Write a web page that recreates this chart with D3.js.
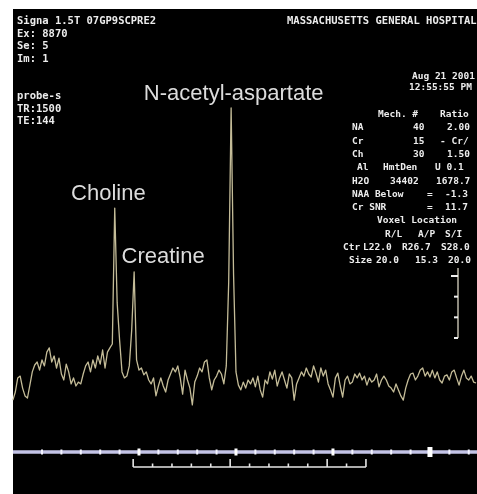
<!DOCTYPE html>
<html>
<head>
<meta charset="utf-8">
<script src="https://cdn.jsdelivr.net/npm/d3@7"></script>
<style>
    html, body { margin: 0; padding: 0; background: #fff; }
    svg { display: block; }
    .mono { font-family: "DejaVu Sans Mono", monospace; font-weight: bold; font-size: 10.5px; fill: #ececec; }
    .small { font-size: 9.5px; }
    .label { font-family: "Liberation Sans", Arial, sans-serif; font-size: 22px; fill: #dcdcdc; }
</style>
</head>
<body>
<svg id="chart"></svg>
<script>
// chemical shift grid of the trace (ppm), one amplitude per step
const ppmStart = 4.30;
const ppmStep = 0.025;

// spectrum amplitude (arbitrary units) left to right
const signal = [
    3.3, 6, 10.7, 11.3, 7.3, 4.7, 4, 8.3, 12.7, 15, 16, 13.3, 16.7, 14.7, 19.3, 20.7,
    16, 18, 14, 17.3, 12, 10, 15.3, 12.7, 8.7, 10.7, 8, 9.3, 8.7, 12, 14.7, 16,
    12.7, 16.7, 14, 18, 15.3, 20, 14, 19.3, 20.7, 22, 67.3, 35.7, 23.3, 12.7, 10.7, 11.3,
    14.7, 26.7, 46, 16.7, 13.3, 14, 11.7, 12.7, 10, 8.7, 10.7, 4.7, 8, 10.7, 8, 6,
    10, 12, 14, 12.7, 14.7, 10.7, 5.3, 13.3, 10, 7.3, 1.7, 9.3, 11.3, 14, 12.7, 16,
    16.7, 10.7, 6.7, 10, 11.3, 13.3, 12, 8.7, 14.7, 42.7, 100.7, 45.3, 12.7, 8.3, 6.7, 9.3,
    7.3, 10, 8.7, 10.7, 7.7, 11.3, 6.7, 4.3, 10, 8.7, 12.7, 10.3, 13.3, 8, 10.7, 12.7,
    10, 7.3, 12, 10.7, 3.3, 8.7, 10.7, 12.7, 11.3, 14, 12, 11, 14.7, 12.3, 9.3, 14,
    11.3, 13.3, 8.7, 6.7, 4.3, 10.7, 12.3, 8, 4.3, 10, 11.3, 8.7, 9.3, 12, 10.7, 12.3,
    10, 11.3, 8.3, 10.7, 9.3, 10, 12, 7.7, 10, 11.3, 10, 8, 7.3, 6, 8.7, 6.7,
    4.7, 3.3, 7.3, 10, 12, 12.3, 10, 11.3, 13.3, 14, 11.3, 12.7, 11, 13.3, 10.7, 12.7,
    10, 9, 11.3, 11.7, 10, 12.7, 13.3, 10.7, 8.3, 11.3, 13.3, 10.7, 10, 11.3, 9.3, 9
];

// metabolite labels: text, ppm of the label start, amplitude of its baseline
const metabolites = ['N-acetyl-aspartate', 'Choline', 'Creatine'];
const metaboliteAnchors = [[2.95, 103.5], [3.70, 70], [3.18, 48.9]];

// frequency axis ticks (ppm)
const majorTicks = [3, 2, 1, 0];
const minorTicks = [4.0, 3.8, 3.6, 3.4, 3.2, 2.8, 2.6, 2.4, 2.2, 1.8, 1.6, 1.4, 1.2, 0.8, 0.6, 0.4, 0.2, -0.2, -0.4];
// reference bracket ticks (ppm)
const bracketTicks = [3.06, 2.86, 2.66, 2.46, 2.26, 2.06, 1.86, 1.66, 1.46, 1.26, 1.06, 0.86, 0.66];
const bracketMajor = [3.06, 2.06, 1.06, 0.66];
// vertical amplitude ruler ticks
const rulerTicks = [0, 1, 2, 3];

// header text
const headerLeft = ['Signa 1.5T  07GP9SCPRE2', 'Ex: 8870', 'Se: 5', 'Im: 1', '', '', 'probe-s', 'TR:1500', 'TE:144'];
const headerRight = 'MASSACHUSETTS GENERAL HOSPITAL';
const dateLines = ['Aug 21 2001', '12:55:55 PM'];
const tableRows = [
    [['Mech. #', 378], ['Ratio', 440]],
    [['NA', 352], ['40', 413], ['2.00', 447]],
    [['Cr', 352], ['15', 413], ['- Cr/', 440]],
    [['Ch', 352], ['30', 413], ['1.50', 447]],
    [['Al', 357], ['HmtDen', 383], ['U 0.1', 435]],
    [['H2O', 352], ['34402', 390], ['1678.7', 436]],
    [['NAA Below', 352], ['=', 427], ['-1.3', 445]],
    [['Cr SNR', 352], ['=', 427], ['11.7', 445]],
    [['Voxel Location', 377]],
    [['R/L', 385], ['A/P', 418], ['S/I', 445]],
    [['Ctr', 343], ['L22.0', 363], ['R26.7', 402], ['S28.0', 441]],
    [['Size', 349], ['20.0', 376], ['15.3', 415], ['20.0', 448]]
];

const width = 477;
const height = 494;

const svg = d3.select('#chart')
    .attr('width', width)
    .attr('height', height);

const defs = svg.append('defs');
defs.append('filter')
    .attr('id', 'soft')
    .append('feGaussianBlur')
    .attr('stdDeviation', 0.45);

svg.append('rect')
    .attr('x', 13)
    .attr('y', 9)
    .attr('width', width - 13)
    .attr('height', height - 9)
    .attr('fill', '#000');

const plot = svg.append('g').attr('filter', 'url(#soft)');

const x = d3.scaleLinear()
    .domain([4.30, -0.485])
    .range([12.9, 477]);

const y = d3.scaleLinear()
    .domain([0, 100])
    .range([410, 110]);

const points = signal.map((v, i) => [ppmStart - i * ppmStep, v]);

const line = d3.line()
    .x(d => x(d[0]))
    .y(d => y(d[1]));

plot.append('path')
    .datum(points)
    .attr('d', line)
    .attr('fill', 'none')
    .attr('stroke', '#c4bc98')
    .attr('stroke-width', 1.3)
    .attr('stroke-linejoin', 'round');

// frequency axis
const axisY = 452;
plot.append('line')
    .attr('x1', 13).attr('x2', width)
    .attr('y1', axisY).attr('y2', axisY)
    .attr('stroke', '#c3c3e6')
    .attr('stroke-width', 3.5);

plot.selectAll('.minor')
    .data(minorTicks)
    .enter()
    .append('rect')
    .attr('class', 'minor')
    .attr('x', d => x(d) - 1)
    .attr('y', axisY - 2.5)
    .attr('width', 2)
    .attr('height', 5)
    .attr('fill', '#f4f4ff');

plot.selectAll('.major')
    .data(majorTicks)
    .enter()
    .append('rect')
    .attr('class', 'major')
    .attr('x', d => x(d) - (d === 0 ? 2.5 : 1.5))
    .attr('y', d => axisY - (d === 0 ? 5 : 3.5))
    .attr('width', d => d === 0 ? 5 : 3)
    .attr('height', d => d === 0 ? 10 : 7)
    .attr('fill', '#ffffff');

// reference bracket below the axis
const bracketY = 467;
plot.append('line')
    .attr('x1', x(bracketTicks[0])).attr('x2', x(bracketTicks[bracketTicks.length - 1]))
    .attr('y1', bracketY).attr('y2', bracketY)
    .attr('stroke', '#e6e6e6')
    .attr('stroke-width', 1.6);

plot.selectAll('.btick')
    .data(bracketTicks)
    .enter()
    .append('line')
    .attr('class', 'btick')
    .attr('x1', d => x(d)).attr('x2', d => x(d))
    .attr('y1', bracketY)
    .attr('y2', d => bracketY - (bracketMajor.includes(d) ? 8 : 3.5))
    .attr('stroke', '#e6e6e6')
    .attr('stroke-width', 1.6);

// vertical amplitude ruler
const ruler = d3.scaleLinear().domain([0, 3]).range([338, 276]);
plot.append('line')
    .attr('x1', 458).attr('x2', 458)
    .attr('y1', ruler(0)).attr('y2', ruler(3) - 8)
    .attr('stroke', '#bdb8a8')
    .attr('stroke-width', 1.5);

plot.selectAll('.rtick')
    .data(rulerTicks)
    .enter()
    .append('line')
    .attr('class', 'rtick')
    .attr('x1', d => d === 3 ? 451 : 454).attr('x2', 458)
    .attr('y1', d => ruler(d)).attr('y2', d => ruler(d))
    .attr('stroke', '#f0f0f0')
    .attr('stroke-width', 2);

// metabolite labels
plot.selectAll('.label')
    .data(metabolites)
    .enter()
    .append('text')
    .attr('class', 'label')
    .attr('x', (d, i) => x(metaboliteAnchors[i][0]))
    .attr('y', (d, i) => y(metaboliteAnchors[i][1]))
    .text(d => d);

// header text
const text = svg.append('g').attr('filter', 'url(#soft)');

text.selectAll('.left')
    .data(headerLeft)
    .enter()
    .append('text')
    .attr('class', 'mono')
    .attr('x', 17)
    .attr('y', (d, i) => 24 + i * 12.5)
    .text(d => d);

text.append('text')
    .attr('class', 'mono')
    .attr('x', 287)
    .attr('y', 24)
    .text(headerRight);

text.selectAll('.date')
    .data(dateLines)
    .enter()
    .append('text')
    .attr('class', 'mono small')
    .attr('x', (d, i) => i === 0 ? 412 : 409)
    .attr('y', (d, i) => 79 + i * 11)
    .text(d => d);

tableRows.forEach((row, r) => {
    text.selectAll(null)
        .data(row)
        .enter()
        .append('text')
        .attr('class', 'mono small')
        .attr('x', d => d[1])
        .attr('y', 117 + r * 13.3)
        .text(d => d[0]);
});
</script>
</body>
</html>
